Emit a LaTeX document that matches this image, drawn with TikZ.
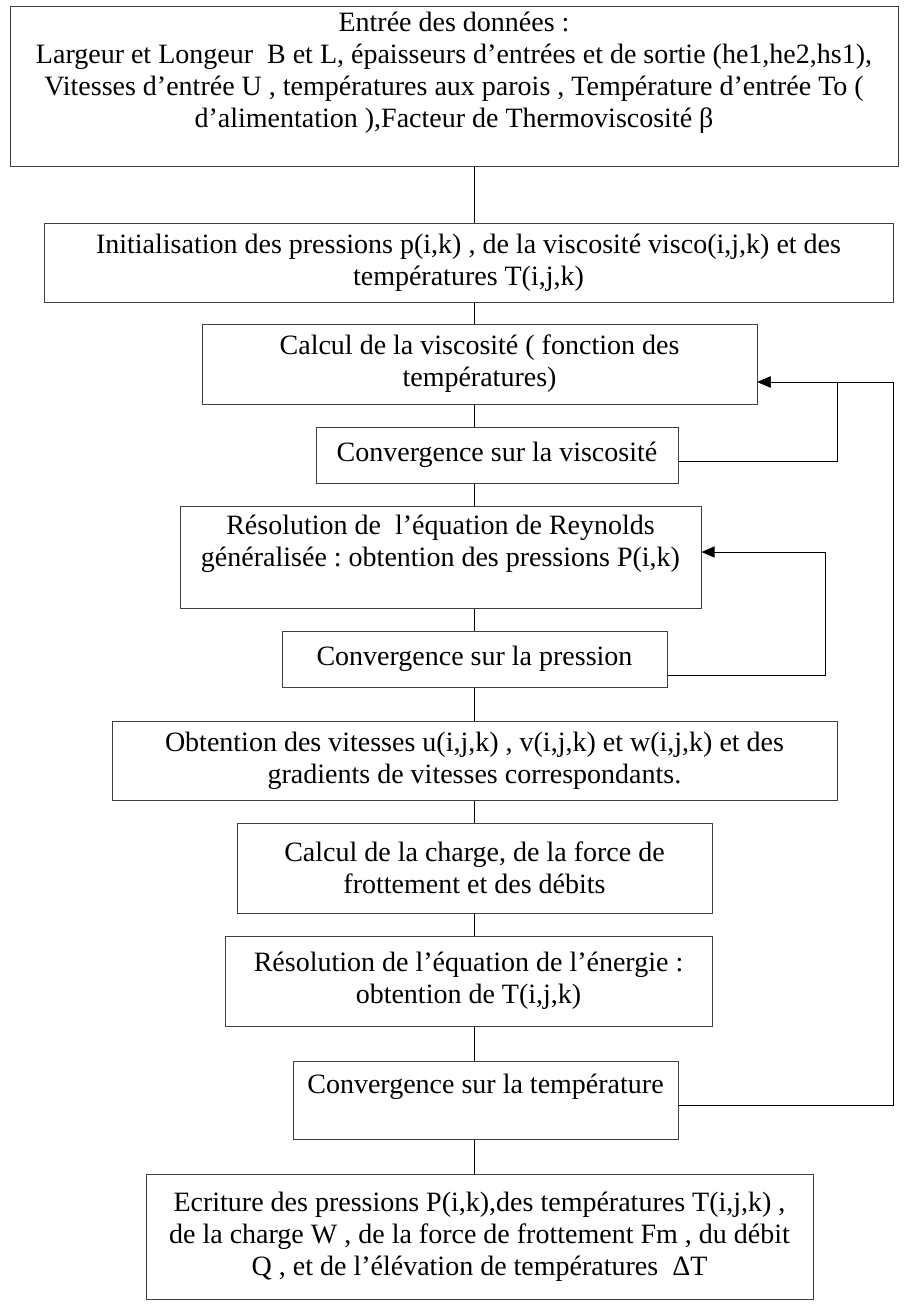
\documentclass[tikz,border=0pt]{standalone}
\usepackage{fontspec}
\setmainfont{Liberation Serif}
\usetikzlibrary{arrows.meta}
\frenchspacing

\tikzset{
  boite/.style={draw=black!75, line width=1pt, rectangle, align=center, inner sep=0pt,
                font=\fontsize{28}{32}\selectfont},
  lien/.style={line width=1pt},
  retour/.style={line width=1pt, -{Triangle[length=13pt,width=11pt]}}
}

\begin{document}
\begin{tikzpicture}[x=1pt, y=-1pt]

    \useasboundingbox (0,0) rectangle (903,1304);

    \node[boite, minimum width=888, minimum height=160] (entree) at (454,86)
      {Entrée des données :\\
       Largeur et Longeur~ B et L, épaisseurs d’entrées et de sortie (he1,he2,hs1),\\
       Vitesses d’entrée U , températures aux parois , Température d’entrée To (\\
       d’alimentation ),Facteur de Thermoviscosité β\\ \mbox{}};
    \node[boite, minimum width=849, minimum height=79] (init) at (468.5,262.5)
      {Initialisation des pressions p(i,k) , de la viscosité visco(i,j,k) et des\\
       températures T(i,j,k)};
    \node[boite, minimum width=555, minimum height=80] (viscos) at (479.5,364)
      {Calcul de la viscosité ( fonction des\\ températures)};
    \node[boite, minimum width=362, minimum height=56] (convvisc) at (497,455)
      {Convergence sur la viscosité};
    \node[boite, minimum width=521, minimum height=102] (reynolds) at (440.5,557)
      {Résolution de~ l’équation de Reynolds\\
       généralisée : obtention des pressions P(i,k)\\ \mbox{}};
    \node[boite, minimum width=385, minimum height=56] (convpres) at (474.5,659)
      {Convergence sur la pression};
    \node[boite, minimum width=725, minimum height=79] (vitesses) at (474.5,760.5)
      {Obtention des vitesses u(i,j,k) , v(i,j,k) et w(i,j,k) et des\\
       gradients de vitesses correspondants.};
    \node[boite, minimum width=475, minimum height=90] (charge) at (474.5,868)
      {Calcul de la charge, de la force de\\ frottement et des débits};
    \node[boite, minimum width=487, minimum height=90] (energie) at (468.5,981)
      {Résolution de l’équation de l’énergie :\\ obtention de T(i,j,k)};
    \node[boite, minimum width=385, minimum height=78] (convtemp) at (485.5,1100)
      {Convergence sur la température\\ \mbox{}};
    \node[boite, minimum width=667, minimum height=125] (ecriture) at (479.5,1236.5)
      {Ecriture des pressions P(i,k),des températures T(i,j,k) ,\\
       de la charge W , de la force de frottement Fm , du débit\\
       Q , et de l’élévation de températures~ ΔT};

    % axe vertical commun
    \coordinate (axe) at (474,0);
    \draw[lien] (entree.south -| axe) to (init.north -| axe);
    \draw[lien] (init.south -| axe) to (viscos.north -| axe);
    \draw[lien] (viscos.south -| axe) to (convvisc.north -| axe);
    \draw[lien] (convvisc.south -| axe) to (reynolds.north -| axe);
    \draw[lien] (reynolds.south -| axe) to (convpres.north -| axe);
    \draw[lien] (convpres.south -| axe) to (vitesses.north -| axe);
    \draw[lien] (vitesses.south -| axe) to (charge.north -| axe);
    \draw[lien] (charge.south -| axe) to (energie.north -| axe);
    \draw[lien] (energie.south -| axe) to (convtemp.north -| axe);
    \draw[lien] (convtemp.south -| axe) to (ecriture.north -| axe);

    % boucles de retour
    \coordinate (bouclev) at (837,0);
    \coordinate (bouclep) at (825,0);
    \coordinate (bouclet) at (893,0);
    \coordinate (entreev) at ([yshift=-18pt]viscos.east);
    \coordinate (entreep) at ([yshift=5pt]reynolds.east);
    \draw[retour] ([yshift=-6pt]convvisc.east) -| (entreev -| bouclev) -- (entreev);
    \draw[retour] ([yshift=-16pt]convpres.east) -| (entreep -| bouclep) -- (entreep);
    \draw[retour] ([yshift=-5pt]convtemp.east) -| (entreev -| bouclet) -- (entreev);

  \end{tikzpicture}
\end{document}
